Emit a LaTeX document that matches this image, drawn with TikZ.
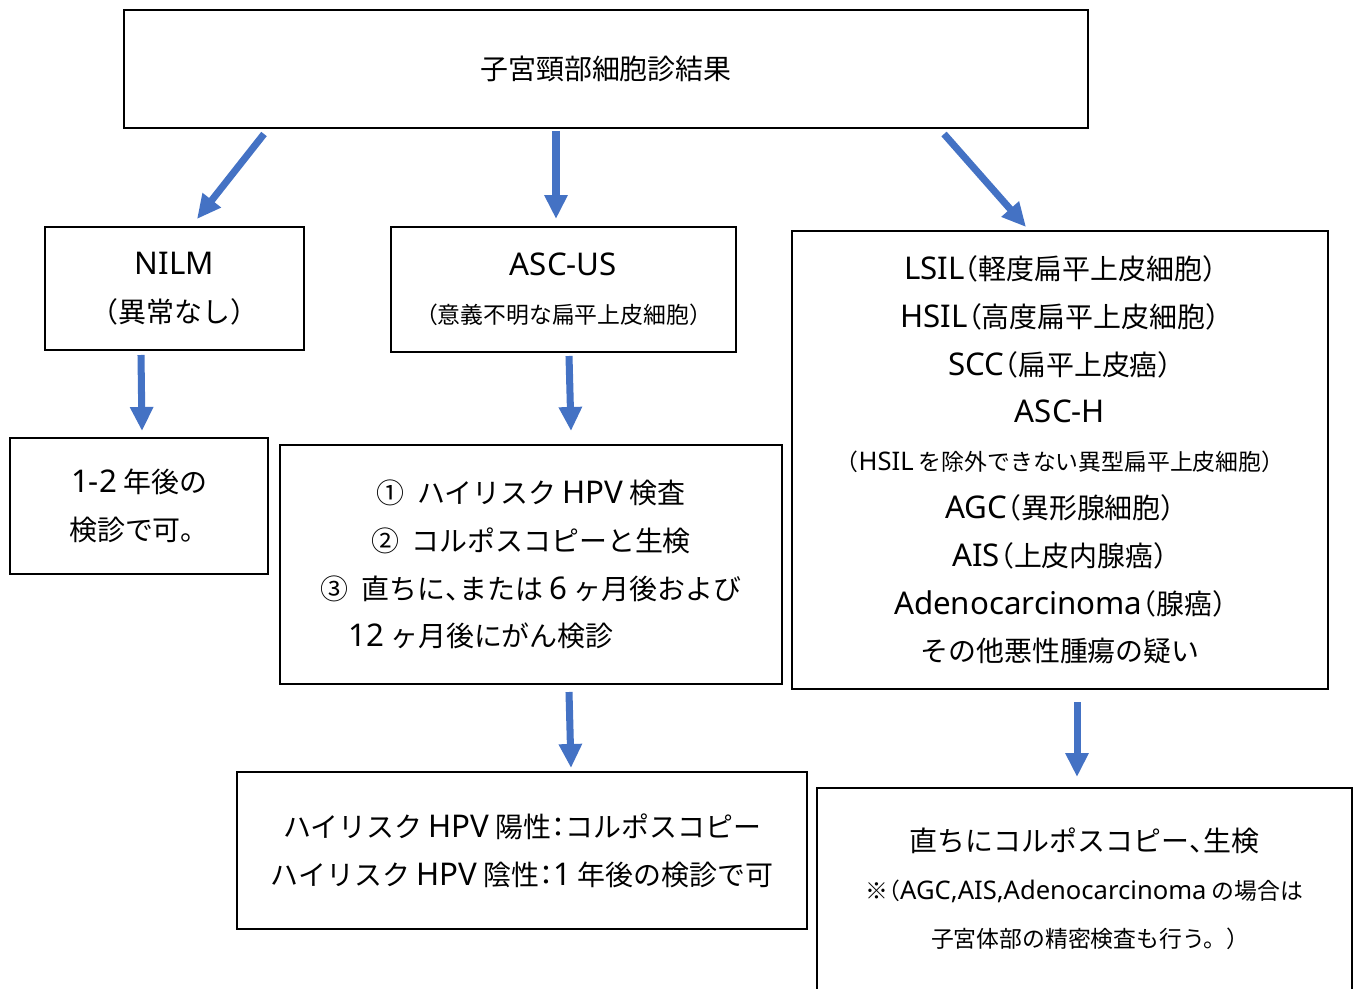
\documentclass[tikz,border=0pt]{standalone}
\usepackage{fontspec}
\setmainfont{Noto Sans CJK JP}
\newfontfamily\latfont{Noto Sans}[Scale=1.12]
\usetikzlibrary{arrows.meta}
\definecolor{arrblue}{HTML}{4472C4}
\newcommand{\lt}[1]{{\latfont #1}}
\newcommand{\lpar}{\makebox[0.5em][r]{（}}
\newcommand{\rpar}{\makebox[0.5em][l]{）}}
\newcommand{\hcolon}{\makebox[0.5em][c]{：}}
\newcommand{\hcomma}{\makebox[0.5em][l]{、}}
\newcommand{\mainsz}{\fontsize{15.9pt}{27.2pt}\selectfont}
\newcommand{\smallsz}{\fontsize{13pt}{27.2pt}\selectfont}
\begin{document}
\begin{tikzpicture}[x=0.02cm,y=-0.02cm,
  box/.style={draw=black, line width=1.4pt, rectangle, inner sep=0pt, align=center, font=\mainsz},
  arr/.style={draw=arrblue, line width=4pt, -{Triangle[length=0.48cm,width=0.44cm]}}]
\useasboundingbox (0,0) rectangle (1355,989);
\node[box, minimum width=19.28cm, minimum height=2.36cm] (top) at (606,69) {子宮頸部細胞診結果};
\node[box, minimum width=5.18cm, minimum height=2.46cm] (nilm) at (174.5,288.5) {\lt{NILM}\\\lpar 異常なし\rpar};
\node[box, minimum width=6.9cm, minimum height=2.5cm] (ascus) at (563.5,289.5) {\lt{ASC-US}\\{\smallsz\lpar 意義不明な扁平上皮細胞\rpar}};
\node[box, minimum width=10.72cm, minimum height=9.16cm] (high) at (1060,460) {\lt{LSIL}\lpar 軽度扁平上皮細胞\rpar\\\lt{HSIL}\lpar 高度扁平上皮細胞\rpar\\\lt{SCC}\lpar 扁平上皮癌\rpar\\\lt{ASC-H}\\{\smallsz\lpar\lt{HSIL} を除外できない異型扁平上皮細胞\rpar}\\\lt{AGC}\lpar 異形腺細胞\rpar\\\lt{AIS}\lpar 上皮内腺癌\rpar\\\lt{Adenocarcinoma}\lpar 腺癌\rpar\\その他悪性腫瘍の疑い};
\node[box, minimum width=5.16cm, minimum height=2.72cm] (follow) at (139,506) {\lt{1-2} 年後の\\検診で可。};
\node[box, minimum width=10.04cm, minimum height=4.78cm] (triage) at (531,564.5) {①\ \ ハイリスク \lt{HPV} 検査\\②\ \ コルポスコピーと生検\\③\ \ 直ちに\hcomma または \lt{6} ヶ月後および\\\lt{12} ヶ月後にがん検診\hspace*{2cm}};
\node[box, minimum width=11.4cm, minimum height=3.14cm] (hpv) at (522,850.5) {ハイリスク \lt{HPV} 陽性\hcolon コルポスコピー\\ハイリスク \lt{HPV} 陰性\hcolon\lt{1} 年後の検診で可};
\node[box, minimum width=10.7cm, minimum height=4.04cm] (colpo) at (1084.5,889) {直ちにコルポスコピー\hcomma 生検\\{\smallsz ※\lpar\lt{AGC,AIS,Adenocarcinoma} の場合は}\\{\smallsz 子宮体部の精密検査も行う。\rpar}};
\coordinate (a1s) at (264,134); \coordinate (a1e) at (197,219);
\coordinate (a2s) at (556,131); \coordinate (a2e) at (556,219);
\coordinate (a3s) at (944,134); \coordinate (a3e) at (1026,227);
\coordinate (a4s) at (141,355); \coordinate (a4e) at (142,431);
\coordinate (a5s) at (569,356); \coordinate (a5e) at (571,431);
\coordinate (a6s) at (569,692); \coordinate (a6e) at (571,768);
\coordinate (a7s) at (1077,702); \coordinate (a7e) at (1077,777);
\draw[arr] (a1s) -- (a1e);
\draw[arr] (a2s) -- (a2e);
\draw[arr] (a3s) -- (a3e);
\draw[arr] (a4s) -- (a4e);
\draw[arr] (a5s) -- (a5e);
\draw[arr] (a6s) -- (a6e);
\draw[arr] (a7s) -- (a7e);
\end{tikzpicture}
\end{document}
